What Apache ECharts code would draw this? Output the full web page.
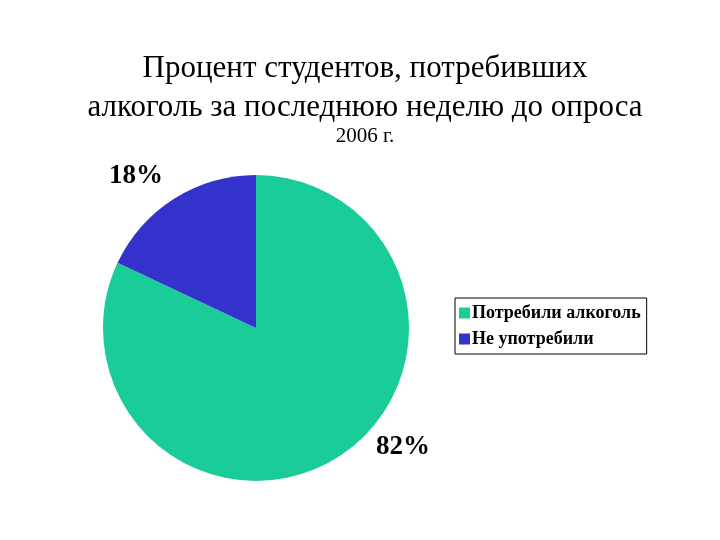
<!DOCTYPE html>
<html>
<head>
<meta charset="utf-8">
<script src="https://cdn.jsdelivr.net/npm/echarts@6/dist/echarts.min.js"></script>
<style>html,body{margin:0;padding:0;background:#fff}#main{width:720px;height:540px}</style>
</head>
<body>
<div id="main"></div>
<script>
var categories = ['Потребили алкоголь', 'Не употребили'];
var values = [82, 18];
var colors = ['#19cc98', '#3333cc'];

var data = [];
for (var i = 0; i < categories.length; i++) {
	data.push({ name: categories[i], value: values[i], itemStyle: { color: colors[i] } });
}

var myChart = echarts.init(document.getElementById('main'));
myChart.setOption({
	animation: false,
	title: [{
		text: 'Процент студентов, потребивших\nалкоголь за последнюю неделю до опроса',
		left: 360, top: 44, textAlign: 'center',
		textStyle: { fontFamily: 'Liberation Serif', fontSize: 31, fontWeight: 'normal', color: '#000', lineHeight: 39 }
	}, {
		text: '2006 г.',
		left: 360, top: 121, textAlign: 'center',
		textStyle: { fontFamily: 'Liberation Serif', fontSize: 21, fontWeight: 'normal', color: '#000' }
	}],
	legend: {
		orient: 'vertical',
		left: 455, top: 298,
		padding: [6, 6, 6, 4],
		itemGap: 8,
		itemWidth: 11, itemHeight: 11,
		borderColor: '#000', borderWidth: 1,
		icon: 'rect',
		textStyle: { fontFamily: 'Liberation Serif', fontSize: 18, fontWeight: 'bold', color: '#000', padding: [0, 0, 0, -3] }
	},
	series: [{
		type: 'pie',
		center: [256, 328],
		radius: 153,
		startAngle: 90,
		clockwise: true,
		data: data,
		label: {
			show: true,
			position: 'outside',
			formatter: '{c}%',
			fontFamily: 'Liberation Serif', fontSize: 27, fontWeight: 'bold', color: '#000'
		},
		labelLine: { show: false, length: 0, length2: 0 },
		labelLayout: function (p) {
			return p.dataIndex === 0
				? { x: 403, y: 447, align: 'center', verticalAlign: 'middle' }
				: { x: 136, y: 176, align: 'center', verticalAlign: 'middle' };
		}
	}]
});
</script>
</body>
</html>
